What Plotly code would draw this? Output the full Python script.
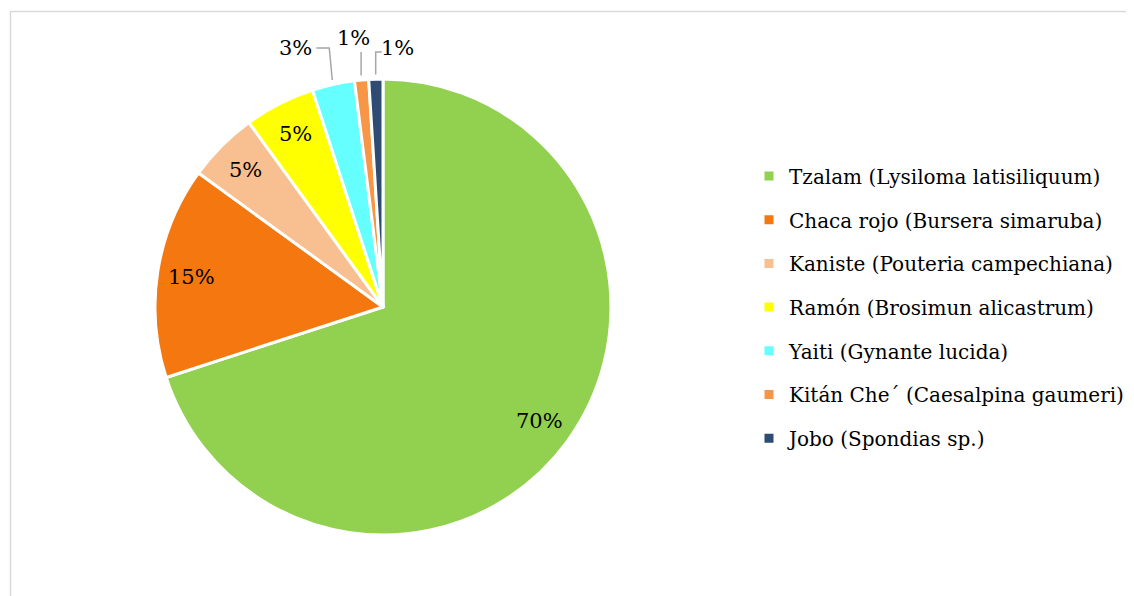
import math
import plotly.graph_objects as go

# ---- data ----
labels = [
    "Tzalam (Lysiloma latisiliquum)",
    "Chaca rojo (Bursera simaruba)",
    "Kaniste (Pouteria campechiana)",
    "Ramón (Brosimun alicastrum)",
    "Yaiti (Gynante lucida)",
    "Kitán Che´ (Caesalpina gaumeri)",
    "Jobo (Spondias sp.)",
]
values = [70, 15, 5, 5, 3, 1, 1]
colors = ["#92D050", "#F4770F", "#F8BF90", "#FFFF00", "#66FFFF", "#F79646", "#2E4C73"]
label_place = ["inside", "inside", "inside", "inside", "left", "top", "right"]

# ---- layout geometry (page pixel coordinates; page body has an 8px margin) ----
W, H = 1134, 596
OFF = 8
CX, CY, R = 383, 307, 228
FONT = "DejaVu Serif"
FS_LBL = 21
FS_LEG = 20


def px(x):
    return (x - OFF) / W


def py(y):
    return 1 - (y - OFF) / H


fig = go.Figure()
fig.add_trace(go.Pie(
    labels=labels, values=values, sort=False, direction="clockwise", rotation=0,
    marker=dict(colors=colors, line=dict(color="white", width=3)),
    textinfo="none", hoverinfo="label+percent", showlegend=False,
    domain=dict(x=[px(CX - R), px(CX + R)], y=[py(CY + R), py(CY - R)]),
))

# legend entries (one per category, grouped so a gap can be set)
for lab, col in zip(labels, colors):
    fig.add_trace(go.Scatter(
        x=[None], y=[None], mode="markers", name=lab, legendgroup=lab,
        marker=dict(symbol="square", size=9, color=col), hoverinfo="skip",
    ))

# percentage labels, placed from cumulative angles
total = sum(values)
cum = 0
shapes = []
annotations = []
for v, place in zip(values, label_place):
    mid = (cum + v / 2) / total * 2 * math.pi  # clockwise from 12 o'clock
    cum += v
    pct = f"{round(100 * v / total)}%"
    sx, sy = math.sin(mid), -math.cos(mid)
    if place == "inside":
        x, y = CX + 0.85 * R * sx, CY + 0.85 * R * sy
        annotations.append(dict(x=px(x), y=py(y), xref="paper", yref="paper", text=pct,
                                xanchor="center", yanchor="middle",
                                showarrow=False, font=dict(family=FONT, size=FS_LBL, color="#000")))
        continue
    ex, ey = CX + 1.02 * R * sx, CY + 1.02 * R * sy
    if place == "left":
        ly = 48
        pts = [(ex, ey), (ex - 3, ly), (ex - 16, ly)]
        ann = dict(x=px(ex - 18), y=py(ly), xanchor="right", yanchor="middle")
    elif place == "top":
        ly = 52
        pts = [(ex, ey), (ex, ly)]
        ann = dict(x=px(ex - 8), y=py(38), xanchor="center", yanchor="middle")
    else:
        ly = 52
        pts = [(ex, ey), (ex, ly), (ex + 6, ly)]
        ann = dict(x=px(ex + 3), y=py(48), xanchor="left", yanchor="middle")
    path = "M " + " L ".join(f"{px(a)},{py(b)}" for a, b in pts)
    shapes.append(dict(type="path", path=path, xref="paper", yref="paper",
                       line=dict(color="#A6A6A6", width=1.5)))
    ann.update(xref="paper", yref="paper", text=pct, showarrow=False,
               font=dict(family=FONT, size=FS_LBL, color="#000"))
    annotations.append(ann)

# chart border (extends beyond right/bottom edges like the reference)
shapes.append(dict(type="rect", xref="paper", yref="paper", x0=px(10.5), x1=1.02,
                   y0=-0.02, y1=py(11.5), line=dict(color="#D9D9D9", width=1.5)))

fig.update_layout(
    width=W, height=H, margin=dict(l=0, r=0, t=0, b=0),
    paper_bgcolor="white", plot_bgcolor="white",
    xaxis=dict(visible=False), yaxis=dict(visible=False),
    shapes=shapes, annotations=annotations,
    legend=dict(x=px(749), y=py(307.5), xanchor="left", yanchor="middle",
                font=dict(family=FONT, size=FS_LEG, color="#000"),
                tracegroupgap=14.7, bgcolor="rgba(0,0,0,0)"),
    font=dict(family=FONT),
)

fig.write_html("out.html")
